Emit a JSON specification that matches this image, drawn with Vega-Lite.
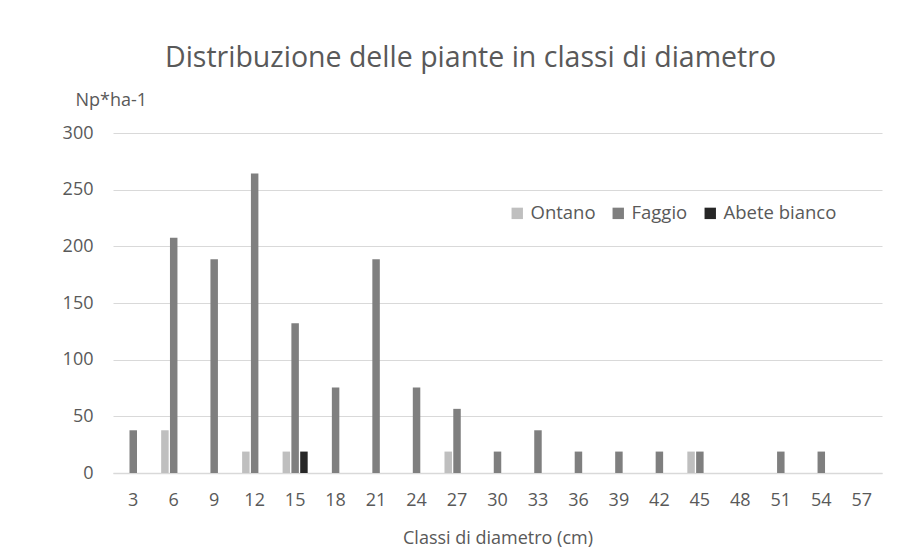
{
  "$schema": "https://vega.github.io/schema/vega-lite/v6.json",
  "width": 769,
  "height": 340,
  "autosize": "none",
  "padding": {"left": 113, "top": 133, "right": 19, "bottom": 85},
  "background": "white",
  "title": {
    "text": "Distribuzione delle piante in classi di diametro",
    "font": "Open Sans",
    "fontSize": 28.5,
    "fontWeight": "normal",
    "color": "#595959",
    "anchor": "middle",
    "frame": "group",
    "dx": -27,
    "offset": 19
  },
  "data": {
    "values": [
      {"classe": 3, "specie": "Faggio", "n": 37.7},
      {"classe": 6, "specie": "Ontano", "n": 37.7},
      {"classe": 6, "specie": "Faggio", "n": 207.5},
      {"classe": 9, "specie": "Faggio", "n": 188.7},
      {"classe": 12, "specie": "Ontano", "n": 18.9},
      {"classe": 12, "specie": "Faggio", "n": 264.2},
      {"classe": 15, "specie": "Ontano", "n": 18.9},
      {"classe": 15, "specie": "Faggio", "n": 132.1},
      {"classe": 15, "specie": "Abete bianco", "n": 18.9},
      {"classe": 18, "specie": "Faggio", "n": 75.5},
      {"classe": 21, "specie": "Faggio", "n": 188.7},
      {"classe": 24, "specie": "Faggio", "n": 75.5},
      {"classe": 27, "specie": "Ontano", "n": 18.9},
      {"classe": 27, "specie": "Faggio", "n": 56.6},
      {"classe": 30, "specie": "Faggio", "n": 18.9},
      {"classe": 33, "specie": "Faggio", "n": 37.7},
      {"classe": 36, "specie": "Faggio", "n": 18.9},
      {"classe": 39, "specie": "Faggio", "n": 18.9},
      {"classe": 42, "specie": "Faggio", "n": 18.9},
      {"classe": 45, "specie": "Ontano", "n": 18.9},
      {"classe": 45, "specie": "Faggio", "n": 18.9},
      {"classe": 48, "specie": "Faggio", "n": 0},
      {"classe": 51, "specie": "Faggio", "n": 18.9},
      {"classe": 54, "specie": "Faggio", "n": 18.9},
      {"classe": 57, "specie": "Faggio", "n": 0}
    ]
  },
  "mark": {"type": "bar"},
  "encoding": {
    "x": {
      "field": "classe",
      "type": "ordinal",
      "scale": {"domain": [3,6,9,12,15,18,21,24,27,30,33,36,39,42,45,48,51,54,57], "paddingInner": 0.38, "paddingOuter": 0.19},
      "axis": {
        "title": "Classi di diametro (cm)",
        "labelAngle": 0,
        "labelFont": "Open Sans",
        "labelFontSize": 18,
        "labelColor": "#595959",
        "labelPadding": 18,
        "ticks": false,
        "domainColor": "#d9d9d9",
        "domainWidth": 1.5,
        "titleFont": "Open Sans",
        "titleFontSize": 18,
        "titleFontWeight": "normal",
        "titleColor": "#595959",
        "titlePadding": 20
      }
    },
    "xOffset": {
      "field": "specie",
      "type": "nominal",
      "scale": {"domain": ["Ontano", "Faggio", "Abete bianco"], "paddingInner": 0.15}
    },
    "y": {
      "field": "n",
      "type": "quantitative",
      "scale": {"domain": [0, 300]},
      "axis": {
        "values": [0, 50, 100, 150, 200, 250, 300],
        "title": "Np*ha-1",
        "titleAngle": 0,
        "titleAlign": "left",
        "titleBaseline": "middle",
        "titleX": -38,
        "titleY": -33,
        "titleFont": "Open Sans",
        "titleFontSize": 18,
        "titleFontWeight": "normal",
        "titleColor": "#595959",
        "labelFont": "Open Sans",
        "labelFontSize": 18,
        "labelColor": "#595959",
        "labelPadding": 20,
        "ticks": false,
        "domain": false,
        "gridColor": "#d9d9d9",
        "gridWidth": 1.2
      }
    },
    "color": {
      "field": "specie",
      "type": "nominal",
      "scale": {"domain": ["Ontano", "Faggio", "Abete bianco"], "range": ["#bfbfbf", "#7f7f7f", "#262626"]},
      "legend": {
        "title": null,
        "orient": "none",
        "direction": "horizontal",
        "legendX": 395,
        "legendY": 71,
        "symbolType": "square",
        "symbolSize": 130,
        "symbolStrokeWidth": 0,
        "labelFont": "Open Sans",
        "labelFontSize": 18.5,
        "labelColor": "#595959",
        "labelOffset": 4,
        "columnPadding": 13
      }
    }
  },
  "config": {"view": {"stroke": null}}
}
